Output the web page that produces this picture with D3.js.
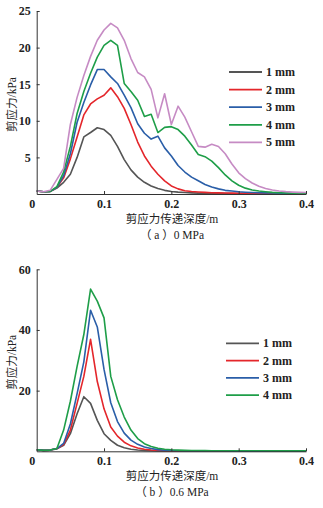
<!DOCTYPE html>
<html>
<head>
<meta charset="utf-8">
<script src="https://cdn.jsdelivr.net/npm/d3@7"></script>
<style>
  html, body { margin: 0; padding: 0; background: #fff; }
  svg { display: block; }
  .tick text { font-family: "Liberation Serif", "DejaVu Serif", serif; font-weight: bold; font-size: 12px; fill: #222; }
  .legend text { font-family: "Liberation Serif", "DejaVu Serif", serif; font-weight: bold; font-size: 12px; fill: #222; }
  .title { font-family: "Liberation Serif", "Noto Sans CJK SC", serif; font-size: 11.5px; fill: #222; }
</style>
</head>
<body>
<svg id="chart" width="323" height="508"></svg>
<script>
// Depth along the transfer path (m)
const depth = [0.00, 0.01, 0.02, 0.03, 0.04, 0.05, 0.06, 0.07, 0.08, 0.09,
               0.10, 0.11, 0.12, 0.13, 0.14, 0.15, 0.16, 0.17, 0.18, 0.19,
               0.20, 0.21, 0.22, 0.23, 0.24, 0.25, 0.26, 0.27, 0.28, 0.29,
               0.30, 0.31, 0.32, 0.33, 0.34, 0.35, 0.36, 0.37, 0.38, 0.39, 0.40];

const seriesNames = ["1 mm", "2 mm", "3 mm", "4 mm", "5 mm"];
const seriesColors = ["#555555", "#e4262b", "#2a5ea8", "#1e9e48", "#c68bc4"];

// Shear stress (kPa) at 0 MPa
const stress0_1mm = [0.4, 0.3, 0.35, 0.8, 1.6, 2.7, 5.0, 7.8, 8.4, 9.05,
                     8.8, 8.0, 6.5, 4.7, 3.3, 2.3, 1.6, 1.1, 0.75, 0.5,
                     0.35, 0.25, 0.2, 0.15, 0.12, 0.1, 0.09, 0.08, 0.07, 0.07,
                     0.06, 0.06, 0.06, 0.05, 0.05, 0.05, 0.05, 0.05, 0.05, 0.05, 0.05];
const stress0_2mm = [0.4, 0.3, 0.35, 0.9, 2.2, 4.8, 7.8, 10.8, 12.3, 13.0,
                     13.5, 14.5, 13.3, 11.7, 9.5, 7.1, 5.2, 3.8, 2.7, 1.8,
                     1.1, 0.7, 0.45, 0.35, 0.28, 0.22, 0.18, 0.15, 0.13, 0.12,
                     0.1, 0.1, 0.09, 0.08, 0.08, 0.07, 0.07, 0.07, 0.06, 0.06, 0.06];
const stress0_3mm = [0.4, 0.3, 0.35, 0.9, 2.5, 5.5, 9.8, 12.5, 14.9, 17.0,
                     17.0, 16.0, 15.1, 13.5, 11.8, 9.6, 8.3, 7.5, 7.9, 6.3,
                     5.2, 3.9, 3.0, 2.3, 1.8, 1.3, 0.95, 0.7, 0.5, 0.4,
                     0.3, 0.24, 0.2, 0.17, 0.15, 0.13, 0.12, 0.1, 0.09, 0.09, 0.08];
const stress0_4mm = [0.4, 0.3, 0.35, 1.0, 3.0, 6.5, 11.0, 14.0, 16.5, 18.7,
                     20.3, 21.0, 20.3, 15.1, 14.0, 12.8, 10.6, 10.9, 8.4, 9.1,
                     9.2, 8.8, 7.9, 6.7, 5.4, 5.1, 4.5, 3.6, 2.6, 1.8,
                     1.2, 0.8, 0.55, 0.4, 0.3, 0.22, 0.18, 0.15, 0.12, 0.1, 0.1];
const stress0_5mm = [0.4, 0.3, 0.5, 2.0, 3.5, 9.5, 13.2, 16.2, 18.8, 21.0,
                     22.4, 23.3, 22.7, 21.0, 18.5, 16.6, 16.0, 14.3, 10.4, 13.7,
                     9.5, 12.0, 10.5, 8.5, 6.5, 6.4, 6.8, 6.5, 5.5, 4.1,
                     2.9, 2.1, 1.5, 1.05, 0.75, 0.55, 0.42, 0.32, 0.26, 0.22, 0.2];

// Shear stress (kPa) at 0.6 MPa
const stress6_1mm = [0.5, 0.3, 0.4, 0.8, 2.0, 5.8, 12.4, 18.0, 15.8, 10.2,
                     5.8, 3.6, 2.0, 1.2, 0.7, 0.45, 0.3, 0.2, 0.15, 0.12,
                     0.1, 0.1, 0.08, 0.08, 0.07, 0.07, 0.06, 0.06, 0.06, 0.05,
                     0.05, 0.05, 0.05, 0.05, 0.05, 0.05, 0.05, 0.05, 0.05, 0.05, 0.05];
const stress6_2mm = [0.5, 0.3, 0.4, 0.9, 2.2, 7.0, 15.8, 24.7, 36.9, 23.0,
                     14.0, 8.0, 5.0, 3.0, 1.8, 1.1, 0.7, 0.45, 0.3, 0.22,
                     0.15, 0.12, 0.1, 0.1, 0.09, 0.08, 0.08, 0.07, 0.07, 0.07,
                     0.06, 0.06, 0.06, 0.06, 0.06, 0.05, 0.05, 0.05, 0.05, 0.05, 0.05];
const stress6_3mm = [0.5, 0.3, 0.4, 0.9, 2.6, 9.0, 19.0, 29.5, 46.5, 41.0,
                     27.0, 16.0, 9.8, 6.0, 3.7, 2.3, 1.4, 0.9, 0.55, 0.35,
                     0.25, 0.18, 0.14, 0.12, 0.1, 0.1, 0.09, 0.08, 0.08, 0.07,
                     0.07, 0.07, 0.06, 0.06, 0.06, 0.06, 0.06, 0.05, 0.05, 0.05, 0.05];
const stress6_4mm = [0.5, 0.3, 0.4, 0.9, 7.0, 16.5, 28.0, 38.5, 53.5, 49.5,
                     44.0, 24.7, 17.0, 11.3, 7.0, 4.2, 2.5, 1.6, 1.0, 0.7,
                     0.5, 0.4, 0.32, 0.28, 0.25, 0.22, 0.2, 0.2, 0.18, 0.18,
                     0.17, 0.17, 0.16, 0.16, 0.16, 0.15, 0.15, 0.15, 0.15, 0.15, 0.15];

const xTicks = [0, 0.1, 0.2, 0.3, 0.4];
const yTicksTop = [5, 10, 15, 20, 25];
const yTicksBottom = [20, 40, 60];

const xTitle = "剪应力传递深度/m";
const yTitle = "剪应力/kPa";

const svg = d3.select("#chart");

function drawPanel(opt) {
  const g = svg.append("g");
  const x = d3.scaleLinear().domain([0, 0.4]).range([36.7, 306]);
  const y = d3.scaleLinear().domain([0, opt.yMax]).range([opt.bottom, opt.top]);

  // curves
  const line = d3.line()
    .x((d, i) => x(depth[i]))
    .y(d => y(d));
  opt.series.forEach((s, k) => {
    g.append("path")
      .datum(s)
      .attr("fill", "none")
      .attr("stroke", seriesColors[k])
      .attr("stroke-width", 1.6)
      .attr("stroke-linejoin", "round")
      .attr("d", line);
  });

  // x axis with inward ticks
  const xAxis = g.append("g")
    .attr("transform", `translate(0,${opt.bottom})`)
    .call(d3.axisBottom(x).tickValues(xTicks)
      .tickFormat(d => d === 0 ? "0" : d3.format(".1f")(d))
      .tickSizeInner(-3).tickSizeOuter(0).tickPadding(5));
  xAxis.select(".domain").attr("stroke", "#333");
  xAxis.selectAll(".tick line").attr("stroke", "#333");
  xAxis.selectAll(".tick").filter(d => d === 0).select("line").remove();
  xAxis.selectAll(".tick").filter(d => d === 0).select("text").attr("dx", -5);

  // y axis with inward ticks
  const yAxis = g.append("g")
    .attr("transform", `translate(36.7,0)`)
    .call(d3.axisLeft(y).tickValues(opt.yTicks)
      .tickSizeInner(-3).tickSizeOuter(0).tickPadding(6));
  yAxis.select(".domain").attr("stroke", "#333");
  yAxis.selectAll(".tick line").attr("stroke", "#333");

  // titles
  g.append("text").attr("class", "title")
    .attr("x", 172).attr("y", opt.bottom + 29)
    .attr("text-anchor", "middle").text(xTitle);
  g.append("text").attr("class", "title")
    .attr("x", 172).attr("y", opt.bottom + 45)
    .attr("text-anchor", "middle").text(opt.caption);
  g.append("text").attr("class", "title")
    .attr("transform", `translate(16,${(opt.top + opt.bottom) / 2 + 2}) rotate(-90)`)
    .attr("text-anchor", "middle").text(yTitle);

  // legend
  const lg = g.append("g").attr("class", "legend");
  opt.series.forEach((s, k) => {
    const ly = opt.legendY + k * opt.legendStep;
    lg.append("line")
      .attr("x1", opt.legendX).attr("x2", opt.legendX + 33)
      .attr("y1", ly).attr("y2", ly)
      .attr("stroke", seriesColors[k]).attr("stroke-width", 1.8);
    lg.append("text")
      .attr("x", opt.legendX + 37).attr("y", ly + 4)
      .text(seriesNames[k]);
  });
}

drawPanel({
  top: 11, bottom: 194, yMax: 25, yTicks: yTicksTop,
  series: [stress0_1mm, stress0_2mm, stress0_3mm, stress0_4mm, stress0_5mm],
  caption: "（ a ）0 MPa",
  legendX: 229, legendY: 72, legendStep: 17.6
});

drawPanel({
  top: 269.3, bottom: 451.3, yMax: 60, yTicks: yTicksBottom,
  series: [stress6_1mm, stress6_2mm, stress6_3mm, stress6_4mm],
  caption: "（ b ）0.6 MPa",
  legendX: 226, legendY: 343.3, legendStep: 17.3
});
</script>
</body>
</html>
